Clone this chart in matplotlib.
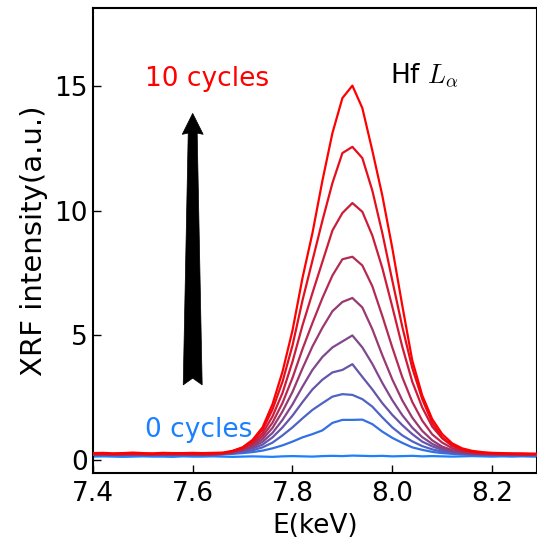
import numpy as np
import matplotlib
matplotlib.use("Agg")
import matplotlib.pyplot as plt
from matplotlib.patches import Polygon

plt.rcParams['mathtext.fontset'] = 'cm'

# energy grid (keV), 0.02 keV steps from 7.40 to 8.30
energy = np.round(np.arange(7.40, 8.3001, 0.02), 2)

# XRF spectra, 0 cycles ... 10 cycles
c0 = [0.15, 0.16, 0.15, 0.14, 0.15, 0.16, 0.15, 0.15, 0.14, 0.16, 0.15, 0.15, 0.16, 0.15, 0.14, 0.15,
      0.16, 0.15, 0.14, 0.16, 0.17, 0.16, 0.15, 0.17, 0.18, 0.17, 0.19, 0.18, 0.17, 0.18, 0.16, 0.17,
      0.18, 0.16, 0.17, 0.16, 0.15, 0.16, 0.17, 0.16, 0.15, 0.16, 0.15, 0.16, 0.15, 0.15]
c1 = [0.22, 0.23, 0.21, 0.22, 0.23, 0.22, 0.21, 0.22, 0.23, 0.22, 0.22, 0.23, 0.22, 0.24, 0.26, 0.29,
      0.33, 0.39, 0.48, 0.60, 0.75, 0.92, 1.05, 1.20, 1.50, 1.62, 1.62, 1.63, 1.45, 1.15, 0.90, 0.70,
      0.52, 0.42, 0.34, 0.29, 0.26, 0.24, 0.23, 0.22, 0.21, 0.21, 0.20, 0.20, 0.20, 0.19]
c2 = [0.23, 0.22, 0.24, 0.23, 0.22, 0.23, 0.24, 0.22, 0.23, 0.23, 0.22, 0.24, 0.23, 0.25, 0.28, 0.33,
      0.40, 0.52, 0.71, 1.00, 1.32, 1.68, 2.02, 2.29, 2.55, 2.65, 2.62, 2.45, 2.15, 1.72, 1.32, 1.00,
      0.76, 0.57, 0.44, 0.35, 0.29, 0.26, 0.24, 0.23, 0.22, 0.22, 0.21, 0.21, 0.20, 0.20]
c3 = [0.23, 0.24, 0.22, 0.23, 0.24, 0.23, 0.22, 0.24, 0.23, 0.24, 0.23, 0.22, 0.24, 0.255, 0.30, 0.36,
      0.47, 0.63, 0.92, 1.32, 1.79, 2.33, 2.84, 3.23, 3.52, 3.62, 3.85, 3.34, 2.84, 2.29, 1.82, 1.41,
      1.05, 0.75, 0.56, 0.42, 0.33, 0.28, 0.25, 0.24, 0.23, 0.22, 0.22, 0.21, 0.21, 0.21]
c4 = [0.24, 0.23, 0.25, 0.24, 0.23, 0.25, 0.24, 0.23, 0.24, 0.25, 0.24, 0.23, 0.25, 0.265, 0.32, 0.39,
      0.53, 0.74, 1.10, 1.62, 2.24, 2.95, 3.62, 4.14, 4.52, 4.76, 5.00, 4.52, 3.86, 3.10, 2.41, 1.81,
      1.31, 0.93, 0.66, 0.48, 0.37, 0.30, 0.26, 0.25, 0.24, 0.23, 0.23, 0.22, 0.22, 0.22]
c5 = [0.24, 0.25, 0.23, 0.24, 0.25, 0.24, 0.23, 0.25, 0.24, 0.24, 0.25, 0.24, 0.23, 0.27, 0.33, 0.42,
      0.58, 0.85, 1.30, 1.96, 2.74, 3.68, 4.56, 5.31, 5.97, 6.34, 6.50, 6.12, 5.25, 4.21, 3.24, 2.40,
      1.71, 1.18, 0.80, 0.55, 0.41, 0.32, 0.27, 0.25, 0.24, 0.23, 0.23, 0.22, 0.22, 0.22]
c6 = [0.25, 0.24, 0.26, 0.25, 0.24, 0.25, 0.26, 0.24, 0.25, 0.25, 0.24, 0.26, 0.25, 0.28, 0.34, 0.45,
      0.65, 0.96, 1.51, 2.30, 3.30, 4.45, 5.50, 6.50, 7.40, 8.05, 8.15, 7.80, 6.97, 5.78, 4.52, 3.33,
      2.34, 1.59, 1.04, 0.71, 0.49, 0.37, 0.30, 0.27, 0.26, 0.25, 0.25, 0.24, 0.24, 0.24]
c7 = [0.25, 0.26, 0.24, 0.25, 0.26, 0.25, 0.24, 0.26, 0.25, 0.26, 0.25, 0.24, 0.26, 0.28, 0.35, 0.47,
      0.70, 1.08, 1.76, 2.70, 3.95, 5.40, 6.70, 7.95, 9.20, 9.90, 10.30, 9.95, 9.00, 7.70, 6.15, 4.55,
      3.15, 2.12, 1.35, 0.88, 0.58, 0.42, 0.33, 0.28, 0.26, 0.25, 0.25, 0.24, 0.24, 0.24]
c8 = [0.26, 0.27, 0.25, 0.26, 0.27, 0.26, 0.25, 0.27, 0.26, 0.26, 0.27, 0.25, 0.26, 0.28, 0.37, 0.51,
      0.78, 1.22, 2.04, 3.15, 4.60, 6.40, 8.00, 9.60, 11.10, 12.30, 12.55, 12.10, 10.80, 9.10, 7.20, 5.35,
      3.70, 2.45, 1.50, 0.92, 0.60, 0.43, 0.34, 0.29, 0.27, 0.26, 0.26, 0.25, 0.25, 0.25]
c9 = [0.29, 0.30, 0.28, 0.29, 0.31, 0.29, 0.28, 0.30, 0.29, 0.29, 0.30, 0.29, 0.30, 0.31, 0.38, 0.52,
      0.82, 1.32, 2.25, 3.55, 5.20, 7.30, 9.10, 11.20, 13.10, 14.50, 15.00, 14.10, 12.40, 10.60, 8.50, 6.20,
      4.00, 2.60, 1.65, 1.05, 0.68, 0.48, 0.38, 0.33, 0.30, 0.29, 0.28, 0.28, 0.27, 0.27]

spectra = [c0, c1, c2, c3, c4, c5, c6, c7, c8, c9]

blue = np.array([0.1, 0.5, 1.0])
red = np.array([1.0, 0.0, 0.0])

fig = plt.figure(figsize=(5.37, 5.46), dpi=100)
ax = fig.add_axes([0.173, 0.134, 0.827, 0.851])

n = len(spectra)
for i, s in enumerate(spectra):
    t = i / (n - 1)
    col = (1 - t) * blue + t * red
    ax.plot(energy, s, color=col, lw=1.6, zorder=2 + i)

# arrow
arrow_pts = [(7.600, 13.89), (7.621, 13.05), (7.609, 13.10), (7.619, 3.02),
             (7.600, 3.29), (7.581, 3.02), (7.591, 13.10), (7.579, 13.05)]
ax.add_patch(Polygon(arrow_pts, closed=True, facecolor='black', edgecolor='black', lw=0.5, zorder=20))

ax.text(7.505, 15.0, '10 cycles', color='red', fontsize=19, ha='left', va='baseline')
ax.text(7.505, 0.95, '0 cycles', color=blue, fontsize=19, ha='left', va='baseline')
ax.text(7.996, 15.1, r'Hf $L_\alpha$', color='black', fontsize=19, ha='left', va='baseline')

ax.set_xlim(7.4, 8.29)
ax.set_ylim(-0.5, 18.1)
ax.set_xticks([7.4, 7.6, 7.8, 8.0, 8.2])
ax.set_xticklabels(['7.4', '7.6', '7.8', '8.0', '8.2'])
ax.set_yticks([0, 5, 10, 15])
ax.tick_params(direction='in', length=6, width=1, labelsize=19, top=False, right=False)
ax.tick_params(axis='x', pad=6)
for sp in ax.spines.values():
    sp.set_linewidth(1.5)
ax.set_xlabel('E(keV)', fontsize=19, labelpad=4)
ax.set_ylabel('XRF intensity(a.u.)', fontsize=21, labelpad=5)

fig.savefig('out.png', dpi=100)
